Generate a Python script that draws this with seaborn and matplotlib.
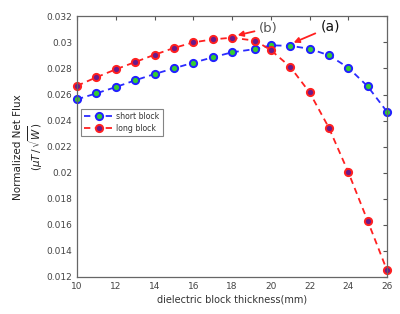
import matplotlib
matplotlib.use("Agg")
import matplotlib.pyplot as plt
import seaborn as sns
import pandas as pd

thickness = [10, 11, 12, 13, 14, 15, 16, 17, 18, 19.2, 20, 21, 22, 23, 24, 25, 26]
short_block = [0.02563, 0.02609, 0.02657, 0.02709, 0.02757, 0.02801, 0.02844, 0.02885,
               0.02924, 0.02949, 0.02977, 0.02974, 0.02951, 0.02901, 0.02806, 0.02663, 0.02468]
long_block = [0.02667, 0.02732, 0.02793, 0.02849, 0.02905, 0.02957, 0.03000, 0.03023,
              0.03036, 0.03013, 0.02941, 0.02813, 0.02617, 0.02345, 0.02005, 0.01631, 0.01251]
x_ticks = [10, 12, 14, 16, 18, 20, 22, 24, 26]
y_ticks = [0.012, 0.014, 0.016, 0.018, 0.02, 0.022, 0.024, 0.026, 0.028, 0.03, 0.032]
y_tick_labels = ["0.012", "0.014", "0.016", "0.018", "0.02", "0.022", "0.024",
                 "0.026", "0.028", "0.03", "0.032"]

sns.set_style("white")
plt.rcParams['font.family'] = ['DejaVu Sans']

fig = plt.figure(figsize=(4.0, 3.14), dpi=100)
ax = fig.add_axes([0.1925, 0.118, 0.775, 0.830])

df_s = pd.DataFrame({"x": thickness, "y": short_block})
df_l = pd.DataFrame({"x": thickness, "y": long_block})

sns.lineplot(data=df_s, x="x", y="y", ax=ax, color="#2b2bff", linestyle=(0, (3.5, 2.5)),
             linewidth=1.3, marker="o", markersize=5.2, markerfacecolor="#33cc33",
             markeredgecolor="#2020ff", markeredgewidth=1.4, label="short block", sort=False,
             clip_on=False)
sns.lineplot(data=df_l, x="x", y="y", ax=ax, color="#ff2020", linestyle=(0, (3.5, 2.5)),
             linewidth=1.3, marker="o", markersize=5.2, markerfacecolor="#6a1a8a",
             markeredgecolor="#ff2020", markeredgewidth=1.4, label="long block", sort=False,
             clip_on=False)

ax.set_xlim(10, 26)
ax.set_ylim(0.012, 0.032)
ax.set_xticks(x_ticks)
ax.set_xticklabels([str(t) for t in x_ticks])
ax.set_yticks(y_ticks)
ax.set_yticklabels(y_tick_labels)
ax.tick_params(direction="in", length=3, width=0.8, colors="#555555", labelsize=6.5,
               top=True, right=True, labelcolor="#444444")
for sp in ax.spines.values():
    sp.set_color("#666666")
    sp.set_linewidth(0.9)

ax.set_xlabel("dielectric block thickness(mm)", fontsize=7, color="#333333", labelpad=3)
ax.set_ylabel("Normalized Net Flux\n" + r"($\mu T\,/\,\sqrt{W}$)", fontsize=7.5,
              color="#222222", labelpad=1)

leg = ax.legend(loc="upper left", bbox_to_anchor=(0.012, 0.645), fontsize=5.6,
                frameon=True, fancybox=False, handlelength=4.0, borderpad=0.4,
                labelspacing=0.35, handletextpad=0.2, borderaxespad=0)
leg.get_frame().set_edgecolor("#666666")
leg.get_frame().set_linewidth(0.8)
for t in leg.get_texts():
    t.set_color("#333333")

ax.annotate("(b)", xy=(18.15, 0.0305), xytext=(19.4, 0.0311), fontsize=9.5, color="#555555",
            ha="left", va="center",
            arrowprops=dict(arrowstyle="-|>", color="#ff2020", lw=1.3, mutation_scale=8,
                            shrinkA=1, shrinkB=2))
ax.annotate("(a)", xy=(21.05, 0.0299), xytext=(22.6, 0.0312), fontsize=10, color="#111111",
            ha="left", va="center",
            arrowprops=dict(arrowstyle="-|>", color="#ff2020", lw=1.3, mutation_scale=8,
                            shrinkA=2, shrinkB=2))

fig.savefig("out.png", dpi=100)
